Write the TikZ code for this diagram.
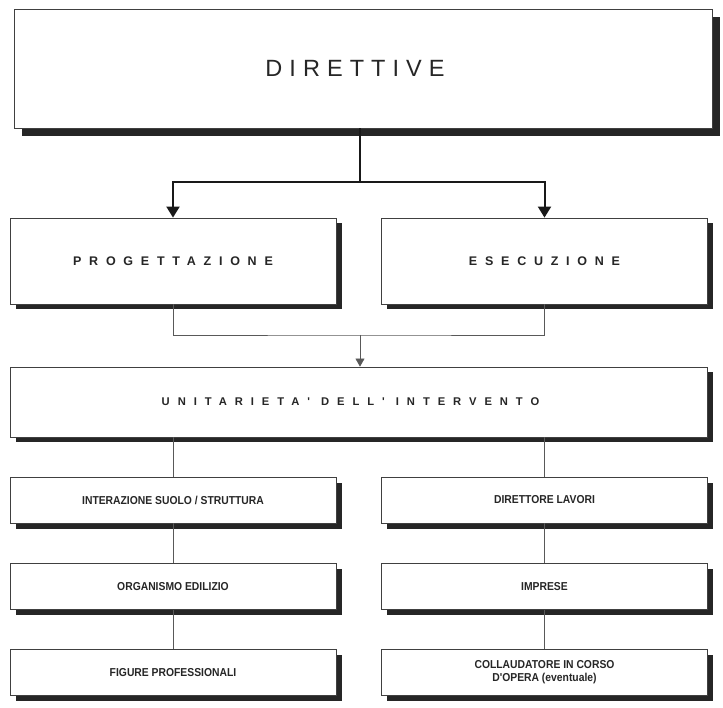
\documentclass[tikz,border=0pt]{standalone}
\usepackage{fontspec}
\setmainfont{Liberation Sans}
\newfontfamily\titlefont[LetterSpace=30]{Liberation Sans}
\newfontfamily\phasefont[LetterSpace=62]{Liberation Sans}
\newfontfamily\unitfont[LetterSpace=71]{Liberation Sans}
\newfontfamily\itemfont[FakeStretch=0.9]{Liberation Sans}
\usetikzlibrary{arrows.meta,shadows}

\begin{document}
\begin{tikzpicture}[x=1pt, y=-1pt,
    box/.style={draw=black!75, line width=0.8pt, fill=white, inner sep=0pt,
      align=center, text=black!85,
      drop shadow={shadow xshift=#1, shadow yshift=-#1, fill=black!85, opacity=1}},
    box/.default=5.5pt,
    phase/.style={box, minimum width=326pt, minimum height=86pt,
      font=\phasefont\bfseries\fontsize{12.5}{14}\selectfont},
    item/.style={box, minimum width=326pt, minimum height=46pt,
      font=\itemfont\bfseries\fontsize{11.5}{13}\selectfont},
    mainlink/.style={draw=black!90, line width=2pt},
    link/.style={draw=black!65, line width=0.5pt},
    bigtip/.style={-{Triangle[width=13pt,length=11pt]}},
    smalltip/.style={-{Triangle[width=9pt,length=8pt]}}]
        \useasboundingbox (0,0) rectangle (723,708);

        \draw (363,68.5) node[box=8pt, minimum width=698pt, minimum height=119pt,
            font=\titlefont\fontsize{23.5}{26}\selectfont] (dir) {DIRETTIVE\kern16pt};

        \draw (173,261) node[phase] (prog) {PROGETTAZIONE};
        \draw (544.5,261) node[phase] (esec) {ESECUZIONE};

        \draw (358.5,402) node[box, minimum width=697pt, minimum height=70pt,
            font=\unitfont\bfseries\fontsize{11.2}{13}\selectfont] (unit) {UNITARIETA' DELL' INTERVENTO\kern16pt};

        \draw (173,500) node[item] (inter) {INTERAZIONE SUOLO / STRUTTURA};
        \draw (173,586.5) node[item] (organ) {ORGANISMO EDILIZIO};
        \draw (173,672.5) node[item] (figure) {FIGURE PROFESSIONALI};

        \draw (544.5,500) node[item] (dl) {DIRETTORE LAVORI};
        \draw (544.5,586.5) node[item] (impr) {IMPRESE};
        \draw (544.5,672.5) node[item] (coll) {COLLAUDATORE IN CORSO\\D'OPERA (eventuale)};

        \coordinate (split) at (360,182);
        \draw[mainlink] (dir.south -| split) -- (split);
        \draw[mainlink, bigtip] (split) -| (prog.north);
        \draw[mainlink, bigtip] (split) -| (esec.north);

        \coordinate (join) at (360,335);
        \draw[link] (prog.south) |- (join) -| (esec.south);
        \draw[link, smalltip] (join) -- (unit.north -| join);

        \draw[link] (unit.south -| inter) -- (inter.north);
        \draw[link] (inter) -- (organ);
        \draw[link] (organ) -- (figure);

        \draw[link] (unit.south -| dl) -- (dl.north);
        \draw[link] (dl) -- (impr);
        \draw[link] (impr) -- (coll);
    \end{tikzpicture}
\end{document}
